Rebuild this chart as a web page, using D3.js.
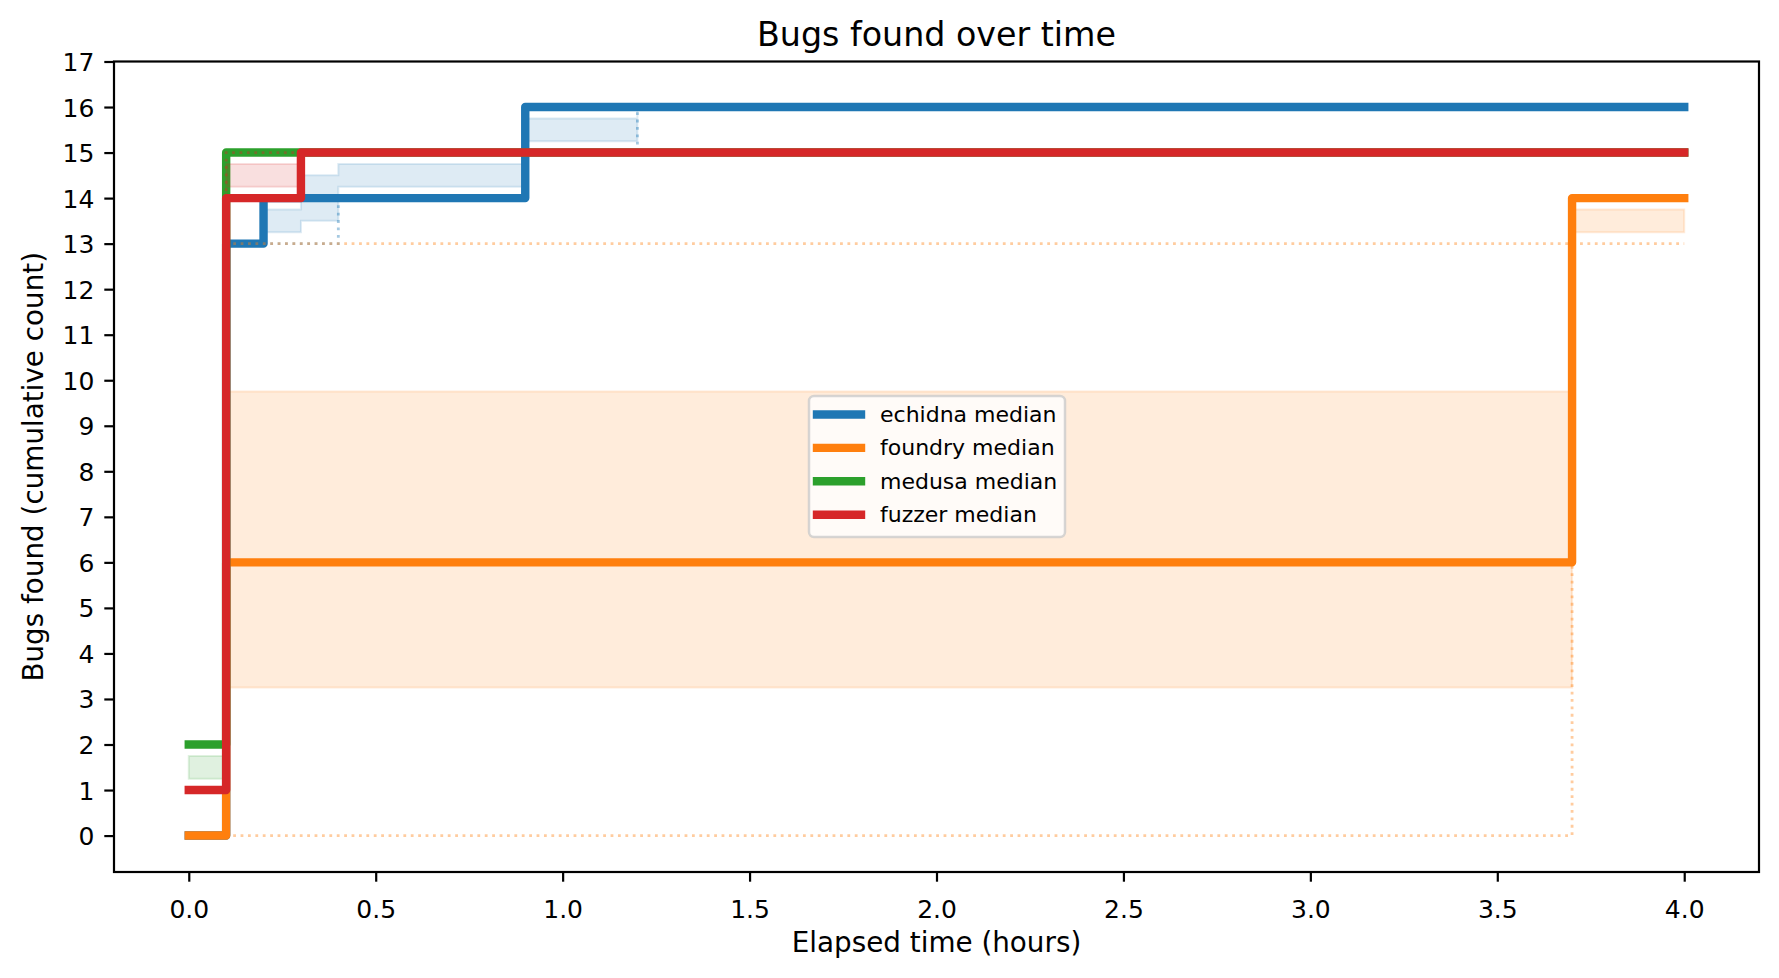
<!DOCTYPE html>
<html>
<head>
<meta charset="utf-8">
<script src="https://cdn.jsdelivr.net/npm/d3@7"></script>
<style>
  body { margin: 0; background: #fff; }
  text { font-family: "DejaVu Sans", sans-serif; fill: #000; }
</style>
</head>
<body>
<div id="frame1"></div>
<script>
// step times (hours) shared by all series
const times = [0, 0.1, 0.2, 0.3, 0.4, 0.9, 1.2, 3.7, 4.0];

// echidna
const echidnaMedian = [0, 13, 14, 14, 14, 16, 16, 16, 16];
const echidnaQ25    = [0, 13, 13.25, 13.5, 14.25, 15.25, 16, 16, 16];
const echidnaQ75    = [0, 13, 13.75, 14.5, 14.75, 15.75, 16, 16, 16];
const echidnaMin    = [0, 13, 13, 13, 14, 15, 16, 16, 16];
const echidnaMax    = [0, 14, 14, 15, 15, 16, 16, 16, 16];

// foundry
const foundryMedian = [0, 6, 6, 6, 6, 6, 6, 14, 14];
const foundryQ25    = [0, 3.25, 3.25, 3.25, 3.25, 3.25, 3.25, 13.25, 13.25];
const foundryQ75    = [0, 9.75, 9.75, 9.75, 9.75, 9.75, 9.75, 13.75, 13.75];
const foundryMin    = [0, 0, 0, 0, 0, 0, 0, 14, 14];
const foundryMax    = [0, 13, 13, 13, 13, 13, 13, 13, 13];

// medusa
const medusaMedian = [2, 15, 15, 15, 15, 15, 15, 15, 15];
const medusaQ25    = [1.25, 15, 15, 15, 15, 15, 15, 15, 15];
const medusaQ75    = [1.75, 15, 15, 15, 15, 15, 15, 15, 15];
const medusaMin    = [1, 15, 15, 15, 15, 15, 15, 15, 15];
const medusaMax    = [2, 15, 15, 15, 15, 15, 15, 15, 15];

// fuzzer
const fuzzerMedian = [1, 14, 14, 15, 15, 15, 15, 15, 15];
const fuzzerQ25    = [1, 14.25, 14.25, 15, 15, 15, 15, 15, 15];
const fuzzerQ75    = [1, 14.75, 14.75, 15, 15, 15, 15, 15, 15];
const fuzzerMin    = [1, 14, 14, 15, 15, 15, 15, 15, 15];
const fuzzerMax    = [1, 15, 15, 15, 15, 15, 15, 15, 15];

const tools = ["echidna", "foundry", "medusa", "fuzzer"];
const colors = ["#1f77b4", "#ff7f0e", "#2ca02c", "#d62728"];
const xTicks = [0, 0.5, 1.0, 1.5, 2.0, 2.5, 3.0, 3.5, 4.0];
const yTicks = d3.range(0, 18);

const series = [
  {median: echidnaMedian, q25: echidnaQ25, q75: echidnaQ75, min: echidnaMin, max: echidnaMax},
  {median: foundryMedian, q25: foundryQ25, q75: foundryQ75, min: foundryMin, max: foundryMax},
  {median: medusaMedian, q25: medusaQ25, q75: medusaQ75, min: medusaMin, max: medusaMax},
  {median: fuzzerMedian, q25: fuzzerQ25, q75: fuzzerQ75, min: fuzzerMin, max: fuzzerMax}
];

// set the dimensions and margins of the graph
const margin = {top: 61.5, right: 20, bottom: 106, left: 114},
      width = 1779 - margin.left - margin.right,
      height = 978 - margin.top - margin.bottom;

const svg = d3.select("#frame1")
  .append("svg")
  .attr("width", width + margin.left + margin.right)
  .attr("height", height + margin.top + margin.bottom)
  .append("g")
  .attr("transform", `translate(${margin.left}, ${margin.top})`);

const x = d3.scaleLinear().domain([-0.2, 4.2]).range([0, width]);
const y = d3.scaleLinear().domain([-0.8, 17]).range([height, 0]);

const line = vals => d3.line()
  .curve(d3.curveStepAfter)
  .x((d, i) => x(times[i]))
  .y(d => y(d))(vals);

const area = (lo, hi) => d3.area()
  .curve(d3.curveStepAfter)
  .x((d, i) => x(times[i]))
  .y0((d, i) => y(lo[i]))
  .y1((d, i) => y(hi[i]))(lo);

// bands, min/max, medians per tool
series.forEach((s, k) => {
  const c = colors[k];
  svg.append("path")
    .attr("d", area(s.q25, s.q75))
    .attr("fill", c).attr("fill-opacity", 0.15)
    .attr("stroke", c).attr("stroke-opacity", 0.15).attr("stroke-width", 2);
  [s.min, s.max].forEach(v => {
    svg.append("path")
      .attr("d", line(v))
      .attr("fill", "none")
      .attr("stroke", c).attr("stroke-opacity", 0.4)
      .attr("stroke-width", 2.8)
      .attr("stroke-dasharray", "2.8 4.6");
  });
  svg.append("path")
    .attr("d", line(s.median))
    .attr("fill", "none")
    .attr("stroke", c)
    .attr("stroke-width", 8.4)
    .attr("stroke-linecap", "square")
    .attr("stroke-linejoin", "round");
});

// Add X axis
const xAxis = svg.append("g")
  .attr("transform", `translate(0, ${height})`)
  .call(d3.axisBottom(x).tickValues(xTicks).tickFormat(d3.format(".1f"))
    .tickSize(9.7).tickSizeOuter(0).tickPadding(19));
// Add Y axis
const yAxis = svg.append("g")
  .call(d3.axisLeft(y).tickValues(yTicks).tickFormat(d3.format("d"))
    .tickSize(9.7).tickSizeOuter(0).tickPadding(10));

[xAxis, yAxis].forEach(g => {
  g.select(".domain").remove();
  g.selectAll(".tick line").attr("stroke", "#000").attr("stroke-width", 2.2);
  g.selectAll("text").attr("font-size", 25).attr("font-family", "DejaVu Sans").attr("fill", "#000");
});
yAxis.selectAll("text").attr("dy", "0.36em");

// frame
svg.append("rect")
  .attr("width", width).attr("height", height)
  .attr("fill", "none").attr("stroke", "#000").attr("stroke-width", 2.2);

// labels
svg.append("text")
  .attr("x", width / 2).attr("y", -16)
  .attr("text-anchor", "middle").attr("font-size", 33.3)
  .text("Bugs found over time");
svg.append("text")
  .attr("x", width / 2).attr("y", height + 80)
  .attr("text-anchor", "middle").attr("font-size", 27.8)
  .text("Elapsed time (hours)");
svg.append("text")
  .attr("transform", `translate(${43 - margin.left}, ${height / 2}) rotate(-90)`)
  .attr("text-anchor", "middle").attr("font-size", 27.8)
  .text("Bugs found (cumulative count)");

// legend
const legend = svg.append("g").attr("transform", "translate(695, 334.5)");
legend.append("rect")
  .attr("width", 256).attr("height", 141).attr("rx", 5)
  .attr("fill", "#fff").attr("fill-opacity", 0.8)
  .attr("stroke", "#ccc").attr("stroke-opacity", 0.8).attr("stroke-width", 2.5);
legend.selectAll("line")
  .data(tools)
  .join("line")
    .attr("x1", 8).attr("x2", 52)
    .attr("y1", (d, i) => 18.5 + i * 33.4)
    .attr("y2", (d, i) => 18.5 + i * 33.4)
    .attr("stroke", (d, i) => colors[i])
    .attr("stroke-width", 8.4)
    .attr("stroke-linecap", "square");
legend.selectAll("text")
  .data(tools)
  .join("text")
    .attr("x", 71)
    .attr("y", (d, i) => 18.5 + i * 33.4 + 7.5)
    .attr("font-size", 22)
    .text(d => d + " median");
</script>
</body>
</html>
